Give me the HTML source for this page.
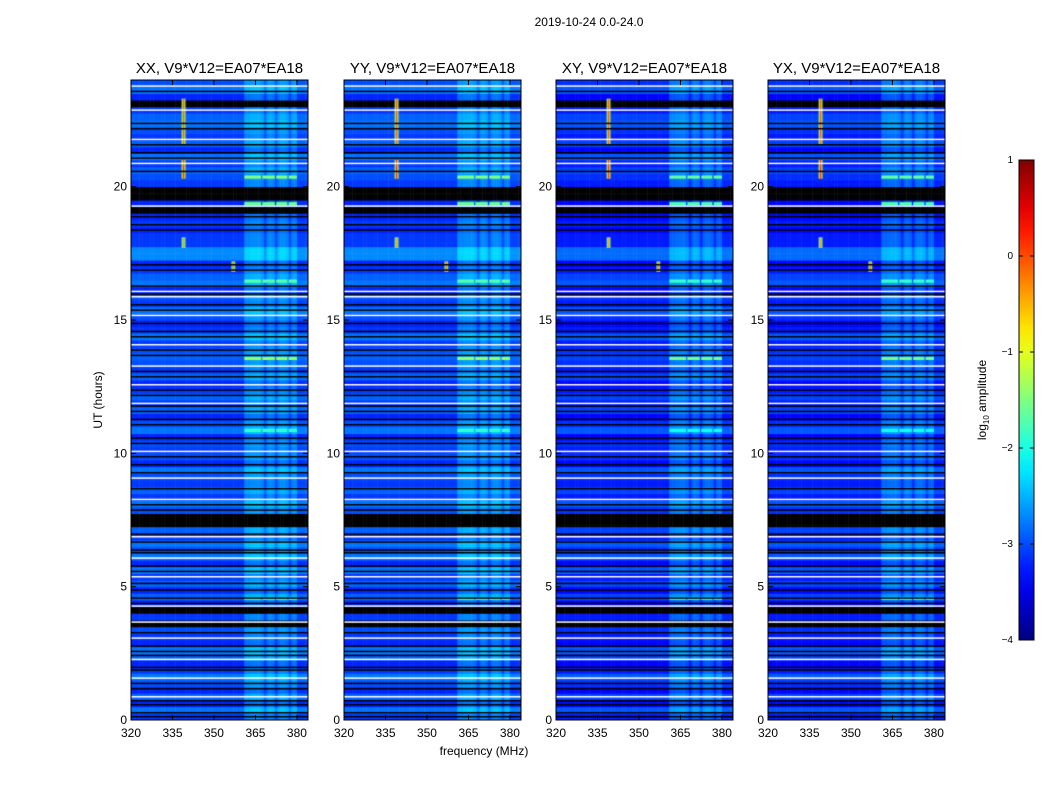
<!DOCTYPE html>
<html><head><meta charset="utf-8">
<style>
body{margin:0;background:#fff;width:1050px;height:800px;overflow:hidden;font-family:"Liberation Sans",sans-serif;}
#wrap{position:relative;width:1050px;height:800px;}
canvas{position:absolute;}
svg{position:absolute;left:0;top:0;}
</style></head>
<body>
<div id="wrap">
<svg id="svg" width="1050" height="800"></svg>
</div>
<script>
// ---- data ----
const panelTitles = ["XX, V9*V12=EA07*EA18","YY, V9*V12=EA07*EA18","XY, V9*V12=EA07*EA18","YX, V9*V12=EA07*EA18"];
const panelLeft = [131,344,556,768];
const panelOffset = [0,0,-0.15,-0.15];
const xTicks = [320,335,350,365,380];
const yTicks = [0,5,10,15,20];
const cbTicks = [1,0,-1,-2,-3,-4];
// row base log-amplitude every 0.25 h from 0h upward; 'K' = no data (black)
const rowValues = [-3.1,-2.8,-3.2,-2.9,-3.2,-3.0,-2.8,-3.1,-3.2,-2.9,-2.8,-3.2,-3.1,-3.0,'K',-3.1,'K',-3.2,-2.9,-3.2,
 -2.9,-3.1,-2.8,-3.2,-2.8,-3.0,-2.8,-3.1,-2.9,'K','K',-3.0,-2.8,-3.1,-2.9,-3.1,-3.0,-2.8,-3.2,-3.0,
 -3.1,-3.0,-3.2,-2.8,-3.0,-3.2,-2.9,-3.1,-2.9,-3.1,-3.2,-2.9,-3.1,-3.0,-2.9,-3.0,-3.1,-2.8,-3.1,-3.2,
 -3.0,-2.8,-3.1,-3.0,-3.2,-2.8,-2.9,-3.1,-3.2,-2.7,-2.7,-3.1,-3.1,-3.2,-3.1,-3.2,'K',-3.2,'K','K',
 -3.1,-3.0,-2.9,-3.1,-2.8,-3.2,-2.9,-3.1,-3.0,-2.8,-2.9,-3.1,'K',-3.2,-2.8,-3.0];
const whiteLines = [0.9,1.6,2.3,3.1,3.7,4.3,5.4,6.1,6.9,8.3,9.1,10.1,11.9,12.6,13.3,14.1,15.2,15.9,16.1,19.3,20.9,21.8,22.9,23.8];
const blackLines = [0.15,0.3,0.6,0.75,1.2,1.4,1.9,2.0,2.45,2.6,2.8,3.3,4.4,4.6,4.9,5.15,5.6,5.8,6.3,6.4,6.7,7.0,7.9,8.1,8.7,9.3,9.6,9.9,10.4,10.6,11.1,11.3,11.6,11.8,12.2,12.4,12.9,13.1,13.7,13.9,14.4,14.6,14.9,15.4,15.6,16.0,16.3,16.9,17.1,18.4,18.6,18.9,19.1,20.6,21.1,21.3,21.6,22.2,22.4,23.6];
// frequency columns (MHz, 1 MHz wide) and per-column boost
const freqs = Array.from({length:64},(_,i)=>320+i);
const colBoost = [0,0,0,0,0,0,0,0,0,0, 0,0,0,0,0,0,0,0,0,0, 0,0,0,0,0,0,0,0,0,0,
 0,0,0,0,0,0,0,0,0,0, 0,0.35,0.35,0.4,0.4,0.4,0.4,0.35,0.1,0.35, 0.4,0.35,0.1,0.35,0.4,0.4,0.35,0.1,0.35,0.35, 0.05,0.05,0.05,0.05];
// band-enhanced rows (RFI band brightened)
const bandRowTimes = [4.5,10.8,13.5,16.4,19.3,20.3];
const bandRowValues = [-1.9,-1.9,-1.4,-1.7,-1.6,-1.5];
// narrow RFI spikes
const spikeFreqs = [339,339,339,357];
const spikeStart = [20.3,21.6,17.7,16.8];
const spikeEnd = [21.0,23.3,18.1,17.2];
const spikeValues = [0.1,-0.1,-0.4,-0.3];

// ---- scales ----
const yTop=80,yBot=720,pw=177;
const xScale=(f,p)=>panelLeft[p]+(f-320)/64*pw;
const yScale=h=>yBot-h/24*(yBot-yTop);
function jet(v){
  let t=(v+4)/5; t=Math.max(0,Math.min(1,t));
  const r=Math.max(0,Math.min(1,1.5-Math.abs(4*t-3)));
  const g=Math.max(0,Math.min(1,1.5-Math.abs(4*t-2)));
  const b=Math.max(0,Math.min(1,1.5-Math.abs(4*t-1)));
  return `rgb(${Math.round(r*255)},${Math.round(g*255)},${Math.round(b*255)})`;
}
const NS="http://www.w3.org/2000/svg";
const svg=document.getElementById('svg');
function mk(tag,attrs,parent){const e=document.createElementNS(NS,tag);for(const k in attrs)e.setAttribute(k,attrs[k]);(parent||svg).appendChild(e);return e;}

const wrap=document.getElementById('wrap');
for(let p=0;p<4;p++){
  const cv=document.createElement('canvas');
  cv.width=pw;cv.height=yBot-yTop;
  cv.style.left=panelLeft[p]+'px';cv.style.top=yTop+'px';
  
  
  wrap.insertBefore(cv,svg);
  const c=cv.getContext('2d');
  const L=panelLeft[p];
  rowValues.forEach((rv,i)=>{
    const h0=i*0.25,h1=h0+0.25;
    const y1=yScale(h1)-yTop,y0=yScale(h0)-yTop;
    freqs.forEach((f,j)=>{
      const x0=xScale(f,p)-L,x1=xScale(f+1,p)-L;
      c.fillStyle=rv==='K'?'#000':jet(rv+panelOffset[p]+colBoost[j]);
      c.fillRect(x0,y1,x1-x0+0.5,y0-y1+0.5);
    });
  });
  bandRowTimes.forEach((t,k)=>{
    c.fillStyle=jet(bandRowValues[k]+panelOffset[p]);
    const y=yScale(t+0.12)-yTop;
    for(const [a,b] of [[361,367],[367.5,372],[372.5,376.5],[377,380]]){
      c.fillRect(xScale(a,p)-L,y,xScale(b,p)-xScale(a,p),yScale(t)-yScale(t+0.12));
    }
  });
  spikeFreqs.forEach((f,k)=>{
    const ya=yScale(spikeEnd[k])-yTop,yb=yScale(spikeStart[k])-yTop;
    c.fillStyle=jet(spikeValues[k]-1.3);c.fillRect(xScale(f-0.7,p)-L,ya,xScale(f+0.7,p)-xScale(f-0.7,p),yb-ya);
    c.fillStyle=jet(spikeValues[k]);c.fillRect(xScale(f-0.3,p)-L,ya,xScale(f+0.3,p)-xScale(f-0.3,p),yb-ya);
  });
  whiteLines.forEach(t=>{c.fillStyle='#fff';c.fillRect(0,yScale(t)-yTop,pw,1.5);});
  blackLines.forEach(t=>{c.fillStyle='#000';c.fillRect(0,yScale(t)-yTop,pw,1.5);});

  const g=mk('g',{});
  
  
  const fr=mk('rect',{x:L,y:yTop,width:pw,height:yBot-yTop,fill:'none',stroke:'#000','stroke-width':1},g);
  
  
  const tt=mk('text',{x:L+pw/2,y:73,'text-anchor':'middle','font-size':15},g);
  tt.textContent=panelTitles[p];
  
  
  xTicks.forEach(v=>{
    const x=xScale(v,p);
    mk('line',{x1:x,x2:x,y1:yBot,y2:yBot-5,stroke:'#000'},g);
    mk('line',{x1:x,x2:x,y1:yTop,y2:yTop+5,stroke:'#000'},g);
    const t=mk('text',{x:x,y:yBot+17,'text-anchor':'middle','font-size':12},g);
    t.textContent=v;
    
    
  });
  yTicks.forEach(v=>{
    const y=yScale(v);
    mk('line',{x1:L,x2:L+5,y1:y,y2:y,stroke:'#000'},g);
    mk('line',{x1:L+pw,x2:L+pw-5,y1:y,y2:y,stroke:'#000'},g);
    const t=mk('text',{x:L-4,y:y+4,'text-anchor':'end','font-size':12},g);
    t.textContent=v;
    
    
  });
}
let t=mk('text',{x:589,y:26,'text-anchor':'middle','font-size':12});t.textContent='2019-10-24 0.0-24.0';

t=mk('text',{x:484,y:755,'text-anchor':'middle','font-size':12});t.textContent='frequency (MHz)';

t=mk('text',{x:0,y:0,'text-anchor':'middle','font-size':12,transform:'translate(102,400) rotate(-90)'});t.textContent='UT (hours)';

const defs=mk('defs',{});
const lg=mk('linearGradient',{id:'jetg',x1:0,y1:1,x2:0,y2:0},defs);
for(let i=0;i<=20;i++){mk('stop',{offset:i/20,'stop-color':jet(-4+5*i/20)},lg);}
const cbX=1019,cbW=15,cbTop=160,cbBot=640;
const cb=mk('rect',{x:cbX,y:cbTop,width:cbW,height:cbBot-cbTop,fill:'url(#jetg)',stroke:'#000'});

cbTicks.forEach(v=>{
  const y=cbBot-(v+4)/5*(cbBot-cbTop);
  mk('line',{x1:cbX,x2:cbX+4,y1:y,y2:y,stroke:'#000'});
  mk('line',{x1:cbX+cbW,x2:cbX+cbW-4,y1:y,y2:y,stroke:'#000'});
  const l=mk('text',{x:1013,y:y+3,'text-anchor':'end','font-size':10});
  l.textContent=v<0?'\u2212'+(-v):v;
  
});
t=mk('text',{x:0,y:0,'text-anchor':'middle','font-size':12,transform:'translate(986,400) rotate(-90)'});
t.innerHTML='log<tspan font-size="8" dy="3">10</tspan><tspan dy="-3"> amplitude</tspan>';

</script>
</body></html>
